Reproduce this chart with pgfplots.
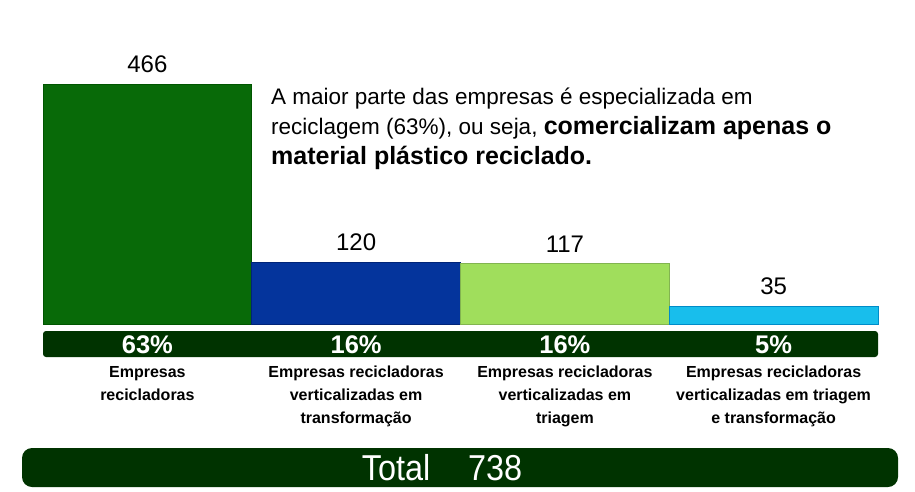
\documentclass[border=0pt]{standalone}
\usepackage{pgfplots}
\pgfplotsset{compat=1.18}
\usepackage{graphicx}
\usepackage{fontspec}
\setmainfont{Liberation Sans}
\definecolor{gA}{RGB}{8,106,8}
\definecolor{gAe}{RGB}{0,85,0}
\definecolor{bB}{RGB}{4,52,156}
\definecolor{bBe}{RGB}{0,36,120}
\definecolor{lC}{RGB}{160,222,92}
\definecolor{lCe}{RGB}{130,180,80}
\definecolor{cD}{RGB}{24,190,236}
\definecolor{cDe}{RGB}{0,140,200}
\definecolor{band}{RGB}{0,51,0}
\begin{document}
\begin{tikzpicture}[x=1pt,y=1pt]
\useasboundingbox (0,0) rectangle (915,491);
\begin{axis}[
  at={(43pt,167pt)}, anchor=south west,
  scale only axis, width=835pt, height=240pt,
  xmin=0, xmax=4, ymin=0, ymax=466,
  hide axis, clip=false,
  ybar, bar width=208.75pt, bar shift=0pt,
  /pgf/number format/assume math mode=true,
  nodes near coords,
  every node near coord/.append style={font=\fontsize{24}{26}\selectfont, text=black, inner sep=0pt, yshift=11pt},
]
\addplot[fill=gA, draw=gAe, line width=0.8pt] coordinates {(0.5,466)};
\addplot[fill=bB, draw=bBe, line width=0.8pt] coordinates {(1.5,120)};
\addplot[fill=lC, draw=lCe, line width=0.8pt] coordinates {(2.5,117)};
\addplot[fill=cD, draw=cDe, line width=0.8pt] coordinates {(3.5,35)};
\end{axis}
% percentage band
\fill[band, rounded corners=3pt] (43,134) rectangle (878,160);
\foreach \x/\p in {147.4/63\%, 356.1/16\%, 564.9/16\%, 773.6/5\%}
  \node[text=white, font=\fontsize{25.5}{27}\selectfont\bfseries] at (\x,146.5) {\p};
% category labels
\foreach \x/\t in {147.4/{Empresas\\recicladoras},
                   356.1/{Empresas recicladoras\\verticalizadas em\\transformação},
                   564.9/{Empresas recicladoras\\verticalizadas em\\triagem},
                   773.6/{Empresas recicladoras\\verticalizadas em triagem\\e transformação}}
  \node[anchor=north, align=center, inner sep=0pt, font=\fontsize{16}{23}\selectfont\bfseries] at (\x,125) {\t};
% annotation
\node[anchor=north west, align=left, inner sep=0pt, font=\fontsize{22.5}{30}\selectfont] at (271,403)
  {A maior parte das empresas é especializada em\\reciclagem (63\%), ou seja, {\fontsize{25}{30}\selectfont\bfseries comercializam apenas o}\\{\fontsize{25}{30}\selectfont\bfseries material plástico reciclado.}};
% total band
\fill[band, rounded corners=10pt] (22,4) rectangle (898,43);
\node[text=white, font=\fontsize{36}{40}\selectfont] at (442,23.5) {\scalebox{0.9}[1]{Total\hspace{42pt}738}};
\end{tikzpicture}
\end{document}
